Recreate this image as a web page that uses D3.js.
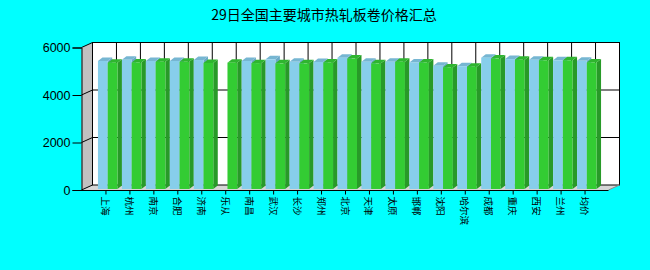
<!DOCTYPE html>
<html>
<head>
<meta charset="utf-8">
<script src="https://cdn.jsdelivr.net/npm/d3@7"></script>
<style>
  html, body { margin: 0; padding: 0; background: #00ffff; }
  svg { display: block; }
</style>
</head>
<body>
<div id="chart"></div>
<script>
// ---- data ----
const cities = ["上海", "杭州", "南京", "合肥", "济南", "乐从", "南昌", "武汉", "长沙", "郑州",
  "北京", "天津", "太原", "邯郸", "沈阳", "哈尔滨", "成都", "重庆", "西安", "兰州", "均价"];
const seriesA = [5390, 5440, 5390, 5390, 5430, null, 5390, 5460, 5360, 5350,
  5530, 5360, 5360, 5330, 5190, 5170, 5530, 5470, 5440, 5420, 5400];
const seriesB = [5320, 5330, 5360, 5360, 5310, 5320, 5300, 5290, 5290, 5330,
  5490, 5290, 5360, 5330, 5120, 5150, 5490, 5440, 5420, 5420, 5330];
const yTicks = [0, 2000, 4000, 6000];
const title = "29日全国主要城市热轧板卷价格汇总";

(function() {
  const width = 650, height = 270;

  // plot frame (front plane) and 3D depth of the chart
  const pLeft = 81.5, pRight = 608.5, pTop = 47.5, pBottom = 190;
  const depthX = 11, depthY = -5;
  // bar box depth
  const barDX = 4.5, barDY = -3.5;

  const svg = d3.select("#chart").append("svg")
    .attr("width", width)
    .attr("height", height);

  svg.append("rect").attr("width", width).attr("height", height).attr("fill", "#00ffff");

  const x = d3.scalePoint().domain(cities).range([pLeft, pRight]).padding(1);
  const y = d3.scaleLinear().domain([0, 6000]).range([pBottom, pTop]);

  const bx0 = pLeft + depthX, bx1 = pRight + depthX;
  const by0 = y(6000) + depthY, by1 = y(0) + depthY;

  // left wall
  svg.append("polygon")
    .attr("points", [[pLeft, y(6000)], [bx0, by0], [bx0, by1], [pLeft, y(0)]].join(" "))
    .attr("fill", "#c0c0c0");

  // floor
  svg.append("polygon")
    .attr("points", [[pLeft, y(0)], [bx0, by1], [bx1, by1], [pRight, y(0)]].join(" "))
    .attr("fill", "#d6d6d6");

  // back wall
  svg.append("rect")
    .attr("x", bx0).attr("y", by0)
    .attr("width", bx1 - bx0).attr("height", by1 - by0)
    .attr("fill", "#ffffff");

  const grid = svg.append("g").attr("stroke", "#000").attr("stroke-width", 1).attr("fill", "none");

  // horizontal grid: slant on the left wall + line across the back wall
  yTicks.forEach(t => {
    grid.append("line")
      .attr("x1", pLeft).attr("y1", y(t))
      .attr("x2", bx0).attr("y2", y(t) + depthY);
    if (t > 0 && t < 6000) {
      grid.append("line")
        .attr("x1", bx0).attr("y1", y(t) + depthY)
        .attr("x2", bx1).attr("y2", y(t) + depthY);
    }
  });

  // vertical grid on the back wall
  cities.forEach(c => {
    grid.append("line")
      .attr("x1", x(c) + depthX).attr("y1", by0)
      .attr("x2", x(c) + depthX).attr("y2", by1);
  });

  // back wall border
  grid.append("rect")
    .attr("x", bx0).attr("y", by0)
    .attr("width", bx1 - bx0).attr("height", by1 - by0);
  grid.append("line")
    .attr("x1", pRight).attr("y1", y(0))
    .attr("x2", bx1).attr("y2", by1)
    .attr("stroke", "#888");

  // ---- bars ----
  const barW = 9.75;
  const lift = 1;
  const styles = [
    { values: seriesA, off: -7.5, front: "#87ceeb", side: "#6aa9c6", topc: "#76b6d2" },
    { values: seriesB, off: 2.25, front: "#33cc33", side: "#289a28", topc: "#2fb52f" }
  ];

  const bars = [];
  cities.forEach((c, i) => {
    styles.forEach(s => {
      const v = s.values[i];
      if (v == null) return;
      bars.push({ city: c, v, s });
    });
  });

  const box = svg.append("g").selectAll("g.bar").data(bars).join("g").attr("class", "bar");

  box.each(function(d) {
    const g = d3.select(this);
    const x0 = x(d.city) + d.s.off;
    const x1 = x0 + barW;
    const yb = y(0) - lift;
    const yt = y(d.v) - lift;
    // side face
    g.append("polygon")
      .attr("points", [[x1, yt], [x1 + barDX, yt + barDY], [x1 + barDX, yb + barDY], [x1, yb]].join(" "))
      .attr("fill", d.s.side);
    // top face
    g.append("polygon")
      .attr("points", [[x0, yt], [x0 + barDX, yt + barDY], [x1 + barDX, yt + barDY], [x1, yt]].join(" "))
      .attr("fill", d.s.topc);
    // front face
    g.append("rect")
      .attr("x", x0).attr("y", yt)
      .attr("width", barW).attr("height", yb - yt)
      .attr("fill", d.s.front);
  });

  // ---- axes ----
  const yAxis = svg.append("g")
    .attr("transform", `translate(${pLeft},0)`)
    .call(d3.axisLeft(y).tickValues(yTicks).tickSize(9).tickPadding(2).tickFormat(d3.format("d")));
  yAxis.select(".domain").attr("stroke", "#000");
  yAxis.selectAll(".tick line").attr("stroke", "#000");
  yAxis.selectAll("text")
    .attr("font-family", "'Liberation Sans', Arial, sans-serif")
    .attr("font-size", "12.5px")
    .attr("fill", "#000");

  const xAxis = svg.append("g")
    .attr("transform", `translate(0,${y(0) + 0.5})`)
    .call(d3.axisBottom(x).tickSize(4).tickSizeOuter(0));
  xAxis.select(".domain").attr("stroke", "#000").attr("d", `M${pLeft},0H${pRight}`);
  xAxis.selectAll(".tick line").attr("stroke", "#000");
  xAxis.selectAll("text")
    .attr("font-family", "'Noto Sans CJK SC', sans-serif")
    .attr("font-size", "9.5px")
    .attr("fill", "#000")
    .attr("text-anchor", "start")
    .attr("transform", "rotate(90)")
    .attr("x", 6)
    .attr("y", 0)
    .attr("dy", "0.42em");

  // title
  svg.append("text")
    .attr("x", 324)
    .attr("y", 20)
    .attr("text-anchor", "middle")
    .attr("font-family", "'Noto Sans CJK SC', sans-serif")
    .attr("font-size", "14px")
    .attr("fill", "#000")
    .text(title);
})();
</script>
</body>
</html>
